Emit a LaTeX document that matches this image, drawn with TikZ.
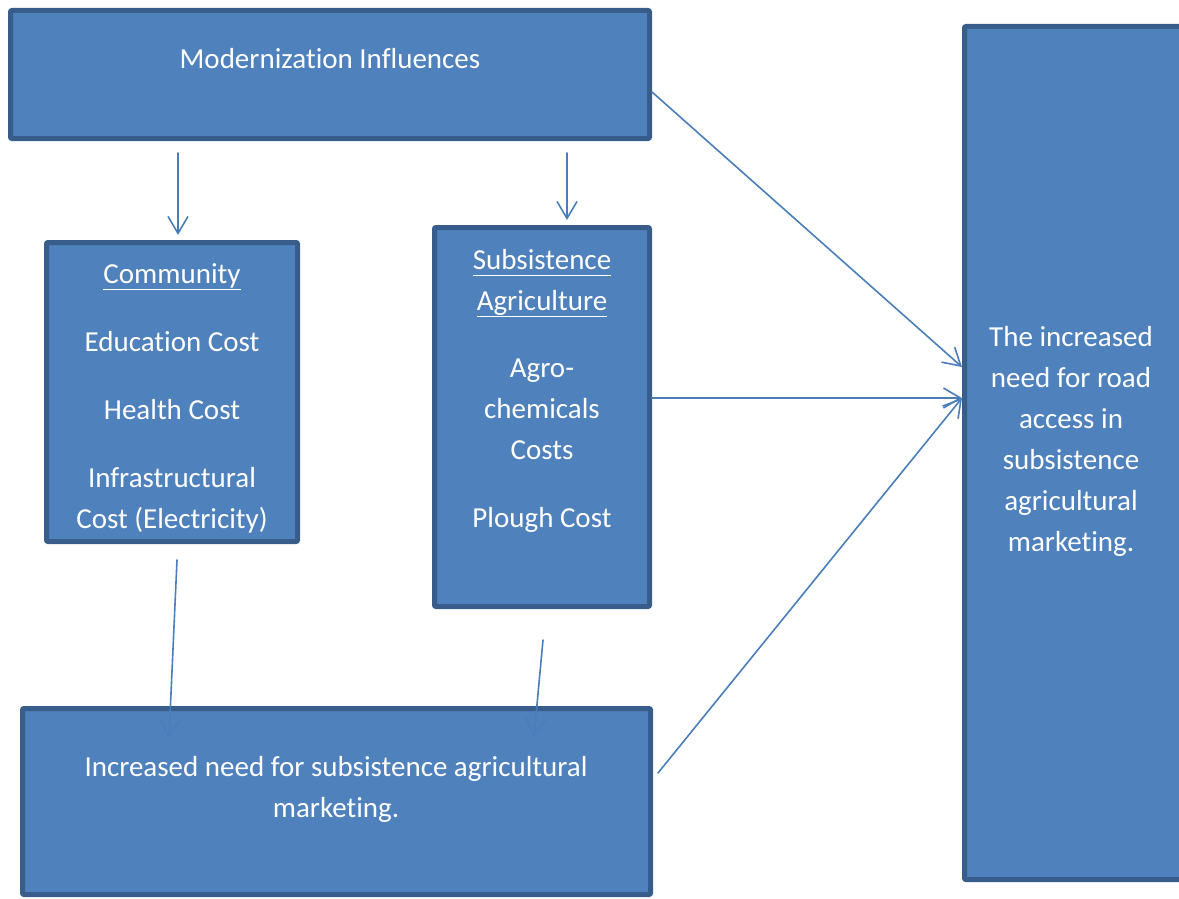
\documentclass[tikz,border=0pt]{standalone}
\usepackage{fontspec}
\setmainfont{Carlito}[Ligatures={NoCommon}]
\usetikzlibrary{arrows.meta,positioning}
\definecolor{boxfill}{HTML}{4F81BD}
\definecolor{boxline}{HTML}{385D8A}
\definecolor{arrline}{HTML}{4A7EBB}
\newcommand{\ulhead}[1]{\underline{#1\vphantom{gy}}}
\begin{document}
\begin{tikzpicture}[x=1pt,y=-1pt,>={Straight Barb[length=17pt,width=20pt]},line join=round,line cap=round,
	font=\fontsize{29}{41}\selectfont,
	box/.style={draw=boxline,fill=boxfill,line width=5pt,inner sep=0pt,rounded corners=1pt},
	txt/.style={text=white,align=center,inner sep=0pt,anchor=base},
	arr/.style={->,draw=arrline,line width=1.6pt}]
		\useasboundingbox (0,0) rectangle (1179,899);
		% boxes
		\node[box,minimum width=639pt,minimum height=128pt] (modern) at (330,74.5) {};
		\node[box,minimum width=251pt,minimum height=299pt] (comm) at (172,392) {};
		\node[box,minimum width=215pt,minimum height=379pt] (agri) at (542,417) {};
		\node[box,minimum width=628pt,minimum height=186pt] (market) at (336.5,801.5) {};
		\node[box,minimum width=221pt,minimum height=853pt] (road) at (1075,453) {};
		% texts (anchored on the last line)
		\node[txt] (modernT) at (330,69) {Modernization Influences};
		\node[txt] (commT) at (172,528) {\ulhead{Community}\\[27pt]Education Cost\\[27pt]Health Cost\\[27pt]Infrastructural\\Cost (Electricity)};
		\node[txt] (agriT) at (542,527) {\ulhead{Subsistence}\\\ulhead{Agriculture}\\[26pt]Agro-\\chemicals\\Costs\\[27pt]Plough Cost};
		\node[txt] (marketT) at (336,817) {Increased need for subsistence agricultural\\marketing.};
		\node[txt] (roadT) at (1071,551) {The increased\\need for road\\access in\\subsistence\\agricultural\\marketing.};
		% arrow ends
		\coordinate (m1) at (178,153);
		\coordinate (m2) at (567,153);
		\coordinate (m3) at (652,92);
		\coordinate (c1) at (177,560);
		\coordinate (c2) at (169,738);
		\coordinate (a1) at (543,640);
		\coordinate (a2) at (534,737);
		\coordinate (k1) at (658,773);
		\coordinate (r1) at (962,367);
		\coordinate (r2) at (962,398);
		% arrows
		\draw[arr,shorten >=5pt] (m1) -- (m1 |- comm.north);
		\draw[arr,shorten >=5pt] (m2) -- (m2 |- agri.north);
		\draw[arr] (m3) -- (r1);
		\draw[arr] (agri.east |- r2) -- (r2);
		\draw[arr] (k1) -- (r2);
		\draw[arr] (c1) -- (c2);
		\draw[arr] (a1) -- (a2);
\end{tikzpicture}
\end{document}
